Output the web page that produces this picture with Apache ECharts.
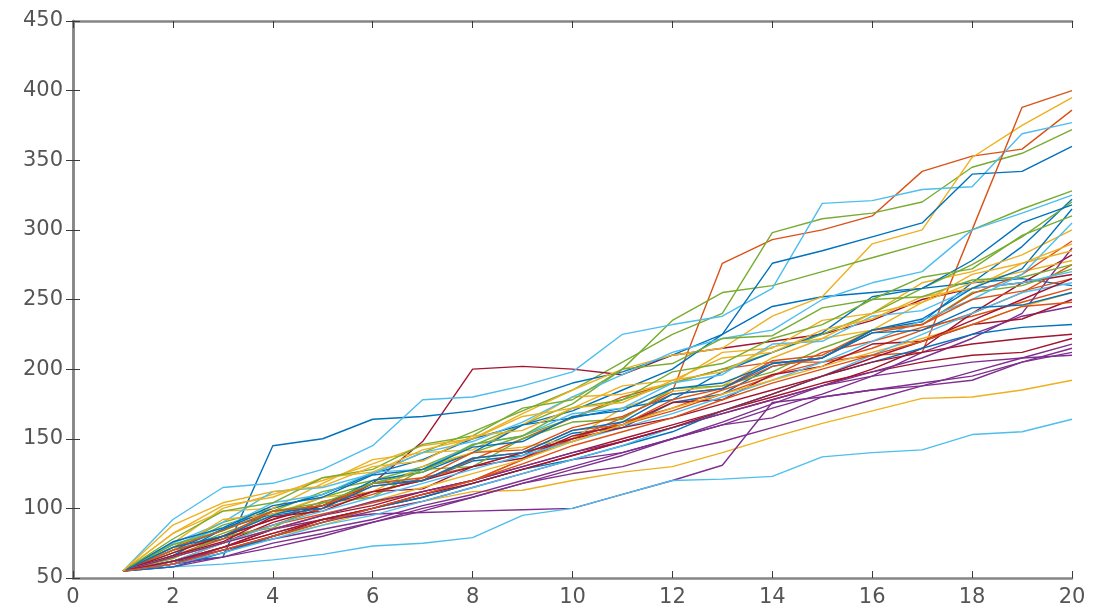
<!DOCTYPE html>
<html lang="en">
<head>
    <meta charset="UTF-8">
    <title>Random walks</title>
    <script src="https://cdn.jsdelivr.net/npm/echarts@6/dist/echarts.min.js"></script>
    <style>
        html, body { margin: 0; padding: 0; background: #fff; }
    </style>
</head>
<body>
<div id="main" style="width: 1095px;height:613px;"></div>
<script>
    // x positions shared by every walk
    var steps = [1,2,3,4,5,6,7,8,9,10,11,12,13,14,15,16,17,18,19,20];

    // tick labels
    var xTicks = [0,2,4,6,8,10,12,14,16,18,20];
    var yTicks = [50,100,150,200,250,300,350,400,450];

    // MATLAB default line colour order
    var palette = ['#0072BD','#D95319','#EDB120','#7E2F8E','#77AC30','#4DBEEE','#A2142F'];

    // one list per plotted line
    var walks = [
        [55,70,78,98,100,118,120,134,138,154,158,176,182,202,208,228,234,262,288,322],
        [55,62,75,88,96,104,112,120,135,150,165,184,276,293,300,310,342,353,358,386],
        [55,62,70,80,88,98,105,112,113,120,126,130,140,151,161,170,179,180,185,192],
        [55,60,72,85,92,96,97,98,99,100,110,120,131,176,180,185,190,195,205,215],
        [55,72,90,100,110,125,140,155,170,185,205,225,240,298,308,312,320,345,355,372],
        [55,58,60,63,67,73,75,79,95,100,110,120,121,123,137,140,142,153,155,164],
        [55,65,75,90,100,118,148,200,202,200,196,210,215,220,225,235,250,258,262,268],
        [55,62,65,145,150,164,166,170,178,190,198,210,225,245,252,255,258,262,265,260],
        [55,66,78,88,100,110,122,130,140,148,160,170,182,195,212,220,230,238,248,258],
        [55,75,100,110,120,132,145,150,168,185,200,210,215,238,252,290,300,352,375,395],
        [55,60,68,80,90,98,105,115,125,135,140,150,160,165,180,185,188,192,205,212],
        [55,70,88,98,112,120,130,145,160,175,200,235,255,260,270,280,290,300,315,328],
        [55,92,115,118,128,145,178,180,188,198,225,232,238,258,319,321,329,331,369,377],
        [55,62,72,85,95,102,112,120,130,140,150,160,170,180,190,198,205,210,212,222],
        [55,70,85,100,110,125,135,150,160,170,185,200,225,276,285,295,305,340,342,360],
        [55,65,80,92,105,112,120,135,150,165,180,190,200,205,205,210,212,300,388,400],
        [55,82,98,100,118,135,140,142,160,180,182,190,212,215,235,240,262,270,282,300],
        [55,58,65,75,82,90,100,108,118,128,138,150,160,172,182,195,212,225,238,245],
        [55,68,82,95,108,118,128,140,152,165,178,190,200,212,225,240,258,275,295,320],
        [55,75,90,112,115,125,140,148,162,180,196,212,222,228,250,262,270,300,312,325],
        [55,60,70,80,92,100,108,118,128,138,148,158,168,178,188,200,215,240,262,282],
        [55,66,85,96,102,120,126,140,160,165,172,178,198,212,226,252,258,278,305,318],
        [55,62,72,82,92,100,110,120,135,150,162,172,185,196,205,215,228,240,255,275],
        [55,70,92,96,108,112,130,140,144,150,172,184,188,208,222,228,248,262,270,278],
        [55,62,70,78,85,92,102,110,120,130,140,150,162,175,188,198,208,222,240,287],
        [55,64,80,86,104,108,128,130,150,162,164,186,188,198,215,228,232,255,260,272],
        [55,74,86,104,110,126,128,146,152,168,172,190,196,218,220,238,242,258,262,270],
        [55,66,76,94,98,112,114,130,136,152,160,176,178,196,202,218,220,232,236,250],
        [55,58,68,80,90,100,108,118,128,135,145,155,170,182,195,205,215,225,230,232],
        [55,70,80,98,102,118,122,140,142,158,166,182,186,206,210,228,232,254,268,292],
        [55,82,102,108,122,126,142,150,166,172,188,192,208,212,228,236,252,258,276,285],
        [55,60,65,72,80,90,98,108,118,125,130,140,148,158,168,178,188,198,208,218],
        [55,74,84,98,104,118,126,146,152,172,178,198,204,222,232,250,252,264,266,275],
        [55,62,75,88,98,108,118,128,138,148,158,168,180,192,205,220,235,250,268,305],
        [55,68,80,92,102,112,120,130,140,150,158,165,175,185,195,205,212,218,222,225],
        [55,76,86,102,108,124,128,144,148,166,170,186,190,204,208,228,236,258,272,315],
        [55,72,84,98,102,116,120,136,140,156,160,178,186,202,208,226,232,250,256,265],
        [55,65,75,85,95,105,115,125,135,148,160,172,182,192,202,212,222,232,245,255],
        [55,65,75,85,95,105,112,120,130,140,148,158,168,178,188,195,200,205,208,210],
        [55,78,98,104,122,128,146,152,172,178,200,204,222,224,244,250,266,272,296,310],
        [55,60,68,78,88,95,105,115,125,135,145,158,170,182,195,210,225,240,255,262],
        [55,62,72,82,92,100,110,118,128,138,148,158,170,182,195,208,220,235,250,265],
        [55,72,80,95,100,116,120,136,140,156,162,182,186,204,208,226,228,244,246,255],
        [55,60,70,80,90,100,110,120,132,145,155,165,178,190,200,210,220,232,245,248],
        [55,88,104,112,116,130,134,152,156,172,176,192,198,216,222,240,248,268,276,290]
    ];

    var myChart = echarts.init(document.getElementById('main'), null, {renderer: 'canvas'});

    var seriesList = walks.map(function (w, i) {
        return {
            type: 'line',
            data: steps.map(function (x, k) { return [x, w[k]]; }),
            showSymbol: false,
            symbol: 'none',
            lineStyle: { width: 1.4, color: palette[i % palette.length] },
            silent: true
        };
    });

    var axisGray = '#858585';
    var tickGray = '#3a3a3a';
    var labelGray = '#555555';
    var labelFont = { color: labelGray, fontSize: 21, fontFamily: 'DejaVu Sans' };

    option = {
        animation: false,
        grid: { left: 73, right: 23, top: 21, bottom: 35 },
        xAxis: [
            {
                type: 'value',
                min: xTicks[0],
                max: xTicks[xTicks.length - 1],
                interval: 2,
                axisLine: { lineStyle: { color: axisGray, width: 2.5 } },
                axisTick: { inside: true, length: 7, lineStyle: { color: tickGray } },
                axisLabel: Object.assign({ margin: 9 }, labelFont),
                splitLine: { show: false }
            },
            {
                type: 'value',
                position: 'top',
                min: xTicks[0],
                max: xTicks[xTicks.length - 1],
                interval: 2,
                axisLine: { show: true, lineStyle: { color: axisGray, width: 2.5 } },
                axisTick: { inside: true, length: 7, lineStyle: { color: tickGray } },
                axisLabel: { show: false },
                splitLine: { show: false }
            }
        ],
        yAxis: [
            {
                type: 'value',
                min: yTicks[0],
                max: yTicks[yTicks.length - 1],
                interval: 50,
                axisLine: { show: true, lineStyle: { color: axisGray, width: 2.5 } },
                axisTick: { show: true, inside: true, length: 7, lineStyle: { color: tickGray } },
                axisLabel: Object.assign({ margin: 10 }, labelFont),
                splitLine: { show: false }
            },
            {
                type: 'value',
                position: 'right',
                min: yTicks[0],
                max: yTicks[yTicks.length - 1],
                interval: 50,
                axisLine: { show: true, lineStyle: { color: axisGray, width: 2.5 } },
                axisTick: { show: true, inside: true, length: 7, lineStyle: { color: tickGray } },
                axisLabel: { show: false },
                splitLine: { show: false }
            }
        ],
        series: seriesList
    };
    myChart.setOption(option);
</script>
</body>
</html>
